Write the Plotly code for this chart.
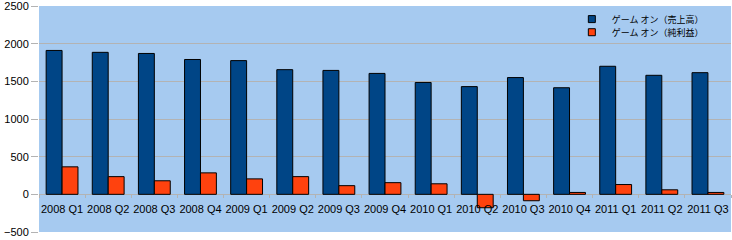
import plotly.graph_objects as go

categories = ["2008 Q1", "2008 Q2", "2008 Q3", "2008 Q4",
              "2009 Q1", "2009 Q2", "2009 Q3", "2009 Q4",
              "2010 Q1", "2010 Q2", "2010 Q3", "2010 Q4",
              "2011 Q1", "2011 Q2", "2011 Q3"]
sales = [1910, 1885, 1870, 1790, 1775, 1655, 1645, 1605, 1485, 1430,
         1550, 1415, 1700, 1580, 1615]
net_income = [365, 235, 180, 285, 205, 235, 115, 155, 140, -178,
              -85, 25, 130, 60, 25]
series_names = ["ゲーム オン（売上高）", "ゲーム オン（純利益）"]
colors = ["#004586", "#FF420E"]
y_ticks = [-500, 0, 500, 1000, 1500, 2000, 2500]

fig = go.Figure()
for name, vals, col in zip(series_names, [sales, net_income], colors):
    fig.add_trace(go.Bar(x=categories, y=vals, name=name, showlegend=False,
                         marker=dict(color=col, line=dict(color="#000000", width=1))))
# legend entries
for i, (name, col) in enumerate(zip(series_names, colors)):
    fig.add_trace(go.Scatter(x=[None], y=[None], mode="markers", name=name,
                             legend="legend" if i == 0 else "legend2",
                             marker=dict(symbol="square", size=7, color=col,
                                         line=dict(color="#000000", width=1))))

fig.update_layout(
    width=732, height=240,
    margin=dict(l=39, r=1, t=6, b=8),
    paper_bgcolor="#FFFFFF",
    plot_bgcolor="#A6CAF0",
    barmode="group", bargap=0.31, bargroupgap=0,
    font=dict(family="Liberation Sans, Arial, sans-serif", size=11, color="#000000"),
    xaxis=dict(type="category", anchor="free", position=1/6,
               showgrid=False, showline=False, zeroline=False,
               ticks="outside", tickson="boundaries", ticklen=3, tickcolor="#B3B3B3",
               tickangle=0, tickfont=dict(size=11), ticklabelstandoff=7),
    yaxis=dict(range=[-500, 2500], tickvals=y_ticks, showgrid=True,
               gridcolor="#B3B3B3", gridwidth=1, zeroline=False, showline=False,
               ticks="outside", ticklen=7, tickcolor="#B3B3B3",
               tickfont=dict(size=11), ticklabeloverflow="allow"),
    legend=dict(x=0.770, y=0.942, xanchor="left", yanchor="middle",
                bgcolor="rgba(0,0,0,0)", borderwidth=0,
                font=dict(family="Noto Sans CJK JP", size=9)),
    legend2=dict(x=0.770, y=0.884, xanchor="left", yanchor="middle",
                 bgcolor="rgba(0,0,0,0)", borderwidth=0,
                 font=dict(family="Noto Sans CJK JP", size=9)),
)

fig.write_html("out.html")
